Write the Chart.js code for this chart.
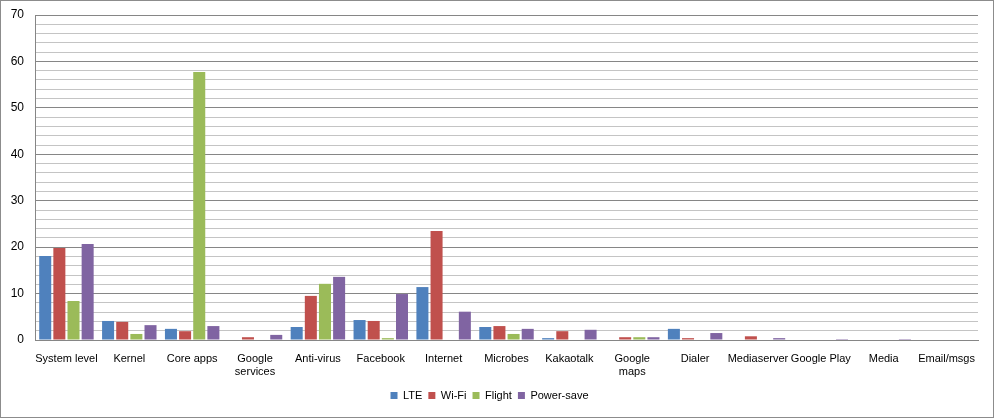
<!DOCTYPE html>
<html><head><meta charset="utf-8">
<script src="https://cdn.jsdelivr.net/npm/chart.js@4"></script>
<style>
html,body{margin:0;padding:0;background:#fff;}
#wrap{width:992px;height:416px;border:1px solid #8c8c8c;position:relative;}
canvas{display:block;}
</style></head>
<body>
<div id="wrap"><canvas id="c" width="992" height="416"></canvas></div>
<script>
const categories = [["System level"],["Kernel"],["Core apps"],["Google","services"],["Anti-virus"],["Facebook"],["Internet"],["Microbes"],["Kakaotalk"],["Google","maps"],["Dialer"],["Mediaserver"],["Google Play"],["Media"],["Email/msgs"]];
const lte       = [18.1, 4.1, 2.4, 0,   2.8, 4.3, 11.4, 2.8, 0.4, 0,   2.4, 0,   0,   0,   0];
const wifi      = [19.8, 3.9, 1.9, 0.6, 9.5, 4.1, 23.5, 3.0, 1.9, 0.6, 0.4, 0.8, 0,   0,   0];
const flight    = [8.4,  1.3, 57.7,0,   12.1,0.4, 0,    1.3, 0,   0.6, 0,   0,   0,   0,   0];
const powerSave = [20.7, 3.2, 3.0, 1.1, 13.6,9.9, 6.1,  2.4, 2.2, 0.6, 1.5, 0.4, 0.2, 0.2, 0];
const seriesNames = ["LTE","Wi-Fi","Flight","Power-save"];
const seriesColors = ["#4F81BD","#C0504D","#9BBB59","#8064A2"];
const yMin = 0, yMax = 70, yStep = 2, yLabelStep = 10;

const ds = [lte, wifi, flight, powerSave].map((d,i)=>({
  label: seriesNames[i], data: d, backgroundColor: seriesColors[i],
  borderWidth: 0, barPercentage: 0.85, categoryPercentage: 0.9
}));
Chart.defaults.font.family = "'Liberation Sans', Arial, sans-serif";
Chart.defaults.font.size = 11;
Chart.defaults.color = "#000";
new Chart(document.getElementById('c'), {
  type: 'bar',
  data: { labels: categories, datasets: ds },
  options: {
    responsive: false, animation: false,
    layout: { padding: { left: 0, right: 15, top: 14, bottom: 6 } },
    plugins: {
      tooltip: { enabled: false },
      legend: { position: 'bottom', labels: { boxWidth: 7, boxHeight: 7, padding: 6, color: '#000', font: { size: 11 } } }
    },
    scales: {
      x: {
        grid: { display: false },
        border: { color: '#868686' },
        ticks: { maxRotation: 0, autoSkip: false, padding: 4, color: '#000' },
        afterFit: s => { s.height = 44; }
      },
      y: {
        min: yMin, max: yMax,
        border: { color: '#868686' },
        grid: {
          color: c => (c.tick && Math.round(c.tick.value) % yLabelStep === 0) ? '#868686' : '#c4c4c4',
          drawTicks: false
        },
        ticks: { stepSize: yStep, maxTicksLimit: 100, autoSkip: false, padding: 11, color: '#000',
          font: { size: 12 },
          callback: v => (v % yLabelStep === 0 ? v : '') },
        afterFit: s => { s.width = 34; s.paddingTop = 0; s.paddingBottom = 0; }
      }
    }
  }
});
</script>
</body></html>
